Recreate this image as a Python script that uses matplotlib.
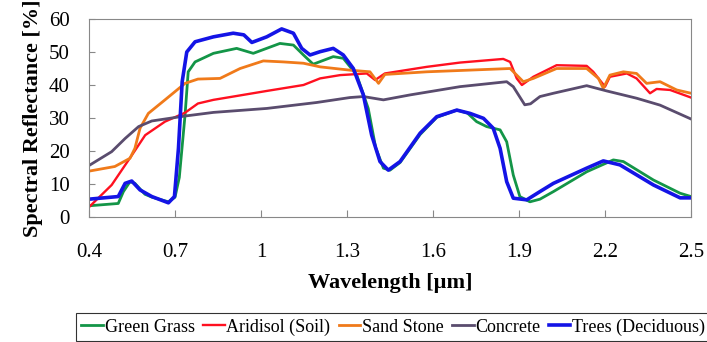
import matplotlib.pyplot as plt
import numpy as np

# wavelength [um] / reflectance [%]
grass_x = [0.40, 0.502, 0.52, 0.543, 0.56, 0.578, 0.595, 0.62, 0.677, 0.70, 0.715, 0.735, 0.746,
           0.77, 0.834, 0.915, 0.973, 1.066, 1.113, 1.148, 1.182, 1.252, 1.287, 1.334, 1.374,
           1.40, 1.427, 1.45, 1.485, 1.555, 1.613, 1.683, 1.72, 1.752, 1.787, 1.834, 1.857,
           1.88, 1.903, 1.938, 1.973, 2.02, 2.136, 2.229, 2.264, 2.369, 2.462, 2.50]
grass_y = [3.4, 4.1, 7.7, 10.7, 10.2, 8.5, 6.9, 6.0, 4.6, 6.0, 12.0, 30.9, 44.0,
           47.0, 49.6, 51.1, 49.6, 52.6, 52.1, 49.1, 46.3, 48.6, 48.1, 43.0, 32.9,
           21.0, 14.8, 14.2, 16.5, 25.0, 30.2, 32.4, 31.5, 28.9, 27.4, 26.4, 22.8,
           12.7, 6.2, 4.6, 5.4, 7.7, 13.7, 17.3, 16.8, 11.2, 7.2, 6.2]

soil_x = [0.40, 0.479, 0.55, 0.596, 0.665, 0.735, 0.78, 0.834, 0.903, 1.02, 1.148, 1.206,
          1.276, 1.369, 1.398, 1.432, 1.578, 1.694, 1.845, 1.869, 1.892, 1.91, 1.95, 2.031,
          2.136, 2.159, 2.20, 2.217, 2.276, 2.31, 2.357, 2.38, 2.427, 2.50]
soil_y = [3.0, 9.7, 18.8, 24.8, 28.9, 31.6, 34.4, 35.5, 36.5, 38.2, 40.0, 42.0,
          43.0, 43.5, 41.5, 43.5, 45.5, 46.8, 47.9, 47.0, 42.0, 40.0, 42.5, 46.0,
          45.8, 44.0, 39.5, 42.5, 43.5, 42.0, 37.5, 38.8, 38.5, 36.2]

sand_x = [0.40, 0.49, 0.543, 0.56, 0.578, 0.607, 0.665, 0.735, 0.78, 0.857, 0.927, 1.008,
          1.078, 1.148, 1.206, 1.31, 1.38, 1.41, 1.432, 1.578, 1.869, 1.892, 1.915, 1.95,
          2.031, 2.136, 2.177, 2.194, 2.217, 2.264, 2.31, 2.345, 2.392, 2.45, 2.50]
sand_y = [13.9, 15.3, 17.8, 20.8, 26.9, 31.4, 35.5, 40.5, 41.8, 42.0, 45.0, 47.3,
          47.0, 46.6, 45.5, 44.5, 44.0, 40.5, 43.2, 44.0, 45.0, 43.0, 41.0, 42.0,
          45.0, 45.0, 42.0, 39.0, 43.0, 44.0, 43.5, 40.5, 41.0, 38.5, 37.5]

concrete_x = [0.40, 0.479, 0.526, 0.573, 0.619, 0.735, 0.834, 1.02, 1.194, 1.31, 1.357, 1.427,
              1.52, 1.694, 1.857, 1.88, 1.92, 1.94, 1.973, 2.02, 2.136, 2.206, 2.31, 2.392,
              2.50]
concrete_y = [15.6, 19.8, 23.8, 27.4, 29.1, 30.6, 31.7, 32.9, 34.7, 36.2, 36.5, 35.5,
              37.0, 39.5, 41.0, 39.5, 34.0, 34.3, 36.5, 37.5, 39.8, 38.2, 36.0, 33.9,
              29.7]

trees_x = [0.40, 0.502, 0.526, 0.549, 0.578, 0.619, 0.677, 0.698, 0.712, 0.725, 0.741, 0.77,
           0.834, 0.903, 0.94, 0.968, 1.02, 1.072, 1.113, 1.142, 1.171, 1.206, 1.252, 1.287,
           1.322, 1.357, 1.386, 1.415, 1.444, 1.485, 1.555, 1.613, 1.683, 1.729, 1.776, 1.81,
           1.834, 1.857, 1.88, 1.927, 1.973, 2.02, 2.136, 2.194, 2.252, 2.369, 2.462, 2.50]
trees_y = [5.4, 6.2, 10.2, 10.9, 8.2, 6.2, 4.3, 6.2, 20.8, 41.0, 50.0, 53.1,
           54.6, 55.7, 55.2, 52.9, 54.6, 57.0, 55.7, 51.1, 49.1, 50.1, 51.1, 49.1,
           45.0, 37.0, 24.8, 16.8, 14.2, 16.8, 25.4, 30.4, 32.4, 31.4, 29.9, 26.9,
           20.8, 10.7, 5.7, 5.2, 7.7, 10.2, 14.8, 17.0, 15.8, 9.7, 5.8, 5.8]

names = ["Green Grass", "Aridisol (Soil)", "Sand Stone", "Concrete", "Trees (Deciduous)"]
colors = ["#139547", "#ff1020", "#f07a1a", "#5a4c6e", "#1414e6"]
widths = [2.0, 1.7, 2.0, 2.0, 2.6]
xs = [grass_x, soil_x, sand_x, concrete_x, trees_x]
ys = [grass_y, soil_y, sand_y, concrete_y, trees_y]

x_ticks = [0.4, 0.7, 1.0, 1.3, 1.6, 1.9, 2.2, 2.5]
x_labels = ["0.4", "0.7", "1", "1.3", "1.6", "1.9", "2.2", "2.5"]

plt.rcParams['font.family'] = ['Liberation Serif', 'DejaVu Serif']

fig = plt.figure(figsize=(7.07, 3.42), dpi=100)
ax = fig.add_axes([0.1259, 0.3655, 0.8515, 0.5789])

for x, y, name, c, w in zip(xs, ys, names, colors, widths):
    ax.plot(x, y, color=c, lw=w, label=name, solid_joinstyle='round')

ax.set_xlim(0.4, 2.5)
ax.set_ylim(0, 60)
ax.set_xticks(x_ticks)
ax.set_xticklabels(x_labels)
ax.set_yticks(np.arange(0, 61, 10))
ax.tick_params(axis='x', direction='in', length=5, color='#888888', labelsize=15, pad=19)
ax.tick_params(axis='y', direction='in', length=4, color='#888888', labelsize=15, pad=14)
for s in ax.spines.values():
    s.set_color('#888888')

ax.set_xlabel("Wavelength [µm]", fontsize=16, fontweight='bold', labelpad=8)
ax.set_ylabel("Spectral Reflectance [%]", fontsize=16, fontweight='bold', labelpad=4)

leg = fig.legend(loc='upper left', bbox_to_anchor=(0.1075, 0.085), ncol=5, fontsize=13,
                 frameon=True, fancybox=False, edgecolor='black', handlelength=1.2,
                 handletextpad=0.1, columnspacing=0.45, borderpad=0.3, borderaxespad=0.0)
leg.get_frame().set_linewidth(0.8)

fig.savefig("out.png", dpi=100)
